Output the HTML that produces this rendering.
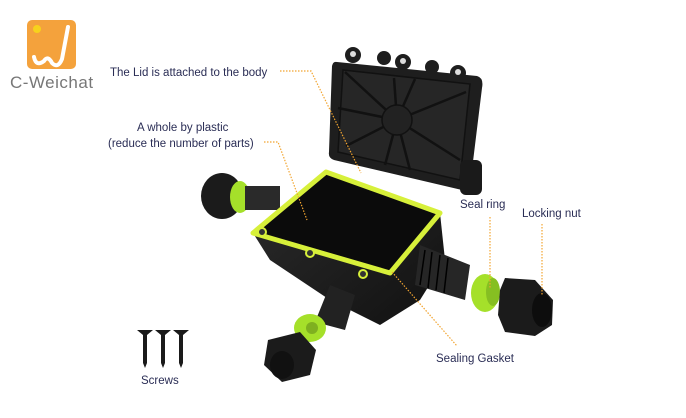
<!DOCTYPE html>
<html><head><meta charset="utf-8"><style>
html,body{margin:0;padding:0;background:#fff;width:686px;height:418px;overflow:hidden}
svg text{font-family:"Liberation Sans",sans-serif;fill:#2a2d55;font-size:11.5px}
</style></head><body>
<svg width="686" height="418" viewBox="0 0 686 418" xmlns="http://www.w3.org/2000/svg">
<defs>
<linearGradient id="bg" x1="0" y1="0" x2="1" y2="1"><stop offset="0" stop-color="#2c2c2c"/><stop offset="1" stop-color="#111"/></linearGradient>
</defs>
<!-- logo -->
<rect x="27" y="20" width="49" height="49" rx="5" fill="#f4a23c"/>
<circle cx="37" cy="29" r="4" fill="#f7d21c"/>
<path d="M34 57 q2 10 10 4 q4 -6 8 2 q6 6 10 -4 l6 -32" stroke="#fff" stroke-width="4" fill="none" stroke-linecap="round"/>
<text x="10" y="88" style="font-size:17px;fill:#777;letter-spacing:0.5px">C-Weichat</text>
<!-- lid -->
<g fill="#1e1e1e">
<circle cx="353" cy="55" r="8"/><circle cx="384" cy="58" r="7"/><circle cx="403" cy="62" r="8"/><circle cx="432" cy="67" r="7"/><circle cx="458" cy="73" r="8"/>
<path d="M337 62 L477 76 Q484 78 482 88 L470 186 Q468 192 462 190 L334 160 Q328 158 329 152 L332 66 Q333 61 337 62Z"/>
</g>
<circle cx="353" cy="54" r="3" fill="#ddd"/><circle cx="403" cy="61" r="3" fill="#ddd"/><circle cx="458" cy="72" r="3" fill="#ddd"/>
<path d="M343 70 L470 84 L460 180 L338 152Z" fill="#262626" stroke="#111" stroke-width="1.5"/>
<g stroke="#111" stroke-width="2.5">
<line x1="397" y1="120" x2="345" y2="72"/><line x1="397" y1="120" x2="394" y2="78"/><line x1="397" y1="120" x2="415" y2="79"/><line x1="397" y1="120" x2="466" y2="92"/><line x1="397" y1="120" x2="338" y2="108"/><line x1="397" y1="120" x2="346" y2="146"/><line x1="397" y1="120" x2="385" y2="165"/><line x1="397" y1="120" x2="410" y2="170"/><line x1="397" y1="120" x2="460" y2="160"/>
</g>
<circle cx="397" cy="120" r="15" fill="#222" stroke="#111" stroke-width="1.5"/>
<!-- right rear hub -->
<rect x="460" y="160" width="22" height="35" rx="6" fill="#1a1a1a"/>
<!-- left gland -->
<ellipse cx="222" cy="196" rx="21" ry="23" fill="#1b1b1b"/>
<ellipse cx="240" cy="197" rx="10" ry="16" fill="#a5e02a"/>
<rect x="245" y="186" width="35" height="24" fill="#2a2a2a"/>
<!-- body -->
<path d="M253 233 L326 172 L440 213 L445 260 L420 300 L380 325 L330 300 L270 260Z" fill="url(#bg)"/>
<!-- bottom gland stem -->
<path d="M330 285 L355 295 L345 330 L315 322Z" fill="#222"/>
<ellipse cx="310" cy="328" rx="16" ry="14" fill="#a5e02a"/><ellipse cx="312" cy="328" rx="6" ry="6" fill="#7fb020"/>
<path d="M268 340 L300 332 L316 350 L310 375 L282 382 L264 365Z" fill="#1b1b1b"/>
<ellipse cx="282" cy="365" rx="12" ry="14" fill="#111"/>
<!-- right stem -->
<path d="M420 245 L470 265 L465 300 L415 285Z" fill="#262626"/>
<g stroke="#000" stroke-width="1.5"><line x1="425" y1="250" x2="420" y2="285"/><line x1="432" y1="252" x2="428" y2="288"/><line x1="440" y1="255" x2="436" y2="290"/><line x1="448" y1="258" x2="444" y2="293"/></g>
<ellipse cx="485" cy="293" rx="14" ry="19" fill="#a5e02a"/><ellipse cx="493" cy="292" rx="7" ry="14" fill="#86bf22"/>
<path d="M505 278 L535 280 L553 300 L552 325 L535 336 L505 332 L498 315 L500 290Z" fill="#1b1b1b"/>
<ellipse cx="542" cy="310" rx="10" ry="17" fill="#0d0d0d"/>
<!-- rim -->
<path d="M253 233 L326 172 L440 213 L390 273Z" fill="#0b0b0b" stroke="#d7f03a" stroke-width="5" stroke-linejoin="round"/>
<circle cx="262" cy="232" r="4" fill="#333" stroke="#d7f03a" stroke-width="2"/>
<circle cx="310" cy="253" r="4" fill="#333" stroke="#d7f03a" stroke-width="2"/>
<circle cx="363" cy="274" r="4" fill="#333" stroke="#d7f03a" stroke-width="2"/>
<!-- screws -->
<g fill="#1a1a1a">
<path d="M137 330 h16 l-6 5 v28 l-2 5 l-2 -5 v-28z"/>
<path d="M155 330 h16 l-6 5 v28 l-2 5 l-2 -5 v-28z"/>
<path d="M173 330 h16 l-6 5 v28 l-2 5 l-2 -5 v-28z"/>
</g>
<!-- leaders -->
<g stroke="#f2a531" stroke-width="1.2" stroke-dasharray="1.5 1.5" fill="none">
<polyline points="280,71 311,71 361,173"/>
<polyline points="264,142 278,142 307,220"/>
<line x1="490" y1="217" x2="490" y2="288"/>
<line x1="542" y1="224" x2="542" y2="296"/>
<line x1="392" y1="272" x2="457" y2="346"/>
</g>
<!-- labels -->
<text x="110" y="76">The Lid is attached to the body</text>
<text x="137" y="131">A whole by plastic</text>
<text x="108" y="147">(reduce the number of parts)</text>
<text x="460" y="208">Seal ring</text>
<text x="522" y="217">Locking nut</text>
<text x="436" y="362">Sealing Gasket</text>
<text x="141" y="384">Screws</text>
</svg>
</body></html>
